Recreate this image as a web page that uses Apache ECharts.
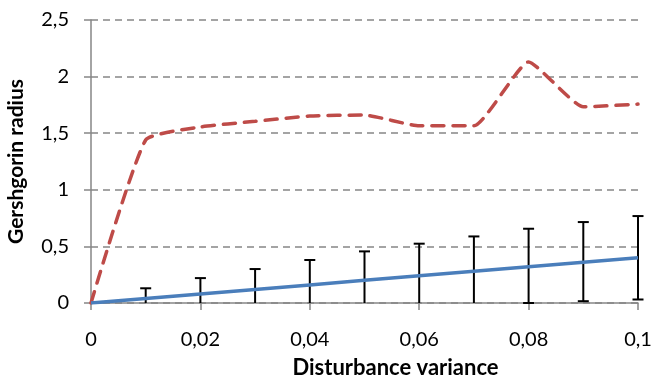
<!DOCTYPE html>
<html>
<head>
<meta charset="utf-8">
<script src="https://cdn.jsdelivr.net/npm/echarts@6/dist/echarts.min.js"></script>
<style>
html, body { margin: 0; padding: 0; background: #fff; }
#chart { width: 653px; height: 375px; }
</style>
</head>
<body>
<div id="chart"></div>
<script>
var xValues = [0, 0.01, 0.02, 0.03, 0.04, 0.05, 0.06, 0.07, 0.08, 0.09, 0.1];
var radiusUpper = [0, 1.44, 1.555, 1.605, 1.652, 1.66, 1.565, 1.565, 2.13, 1.733, 1.757];
var radiusMean = [0, 0.04, 0.08, 0.12, 0.16, 0.2, 0.24, 0.28, 0.32, 0.36, 0.4];
var errLow = [0, -0.05, -0.06, -0.06, -0.06, -0.056, -0.044, -0.028, 0.0, 0.016, 0.031];
var errHigh = [0, 0.13, 0.22, 0.30, 0.38, 0.456, 0.524, 0.588, 0.656, 0.715, 0.768];

var chartDom = document.getElementById('chart');
var myChart = echarts.init(chartDom);

function comma(v) {
    return String(Math.round(v * 100) / 100).replace('.', ',');
}

var redData = xValues.map(function (x, i) { return [x, radiusUpper[i]]; });
var blueData = xValues.map(function (x, i) { return [x, radiusMean[i]]; });
var errData = [];
for (var i = 1; i < xValues.length; i++) {
    errData.push([xValues[i], errLow[i], errHigh[i]]);
}

var font = 'Lato, "Open Sans", sans-serif';

var option = {
    animation: false,
    grid: {
        left: 91,
        right: 15,
        top: 20,
        bottom: 72,
        containLabel: false,
        outerBoundsMode: 'none'
    },
    xAxis: {
        type: 'value',
        min: 0,
        max: 0.1,
        interval: 0.02,
        name: 'Disturbance variance',
        nameLocation: 'middle',
        nameGap: 54,
        nameTextStyle: { fontFamily: font, fontSize: 22, fontWeight: 'bold', color: '#000', padding: [0, 0, 0, 62] },
        axisLine: { show: true, lineStyle: { color: '#868686', width: 1.5 } },
        axisTick: { show: true, length: 7, lineStyle: { color: '#868686', width: 1.5 } },
        axisLabel: { fontFamily: font, fontSize: 20, color: '#000', margin: 27, formatter: comma },
        splitLine: { show: false }
    },
    yAxis: {
        type: 'value',
        min: 0,
        max: 2.5,
        interval: 0.5,
        name: 'Gershgorin radius',
        nameLocation: 'middle',
        nameGap: 64,
        nameRotate: 90,
        nameTextStyle: { fontFamily: font, fontSize: 21, fontWeight: 'bold', color: '#000' },
        axisLine: { show: true, lineStyle: { color: '#868686', width: 1.5 } },
        axisTick: { show: true, length: 7, lineStyle: { color: '#868686', width: 1.5 } },
        axisLabel: { fontFamily: font, fontSize: 20, color: '#000', margin: 22, formatter: comma },
        splitLine: { show: true, lineStyle: { color: '#868686', width: 1.5, type: [7, 5] } }
    },
    series: [
        {
            name: 'Upper bound',
            type: 'line',
            data: redData,
            smooth: 0.15,
            showSymbol: false,
            lineStyle: { color: '#BE4B48', width: 3.5, type: [12, 9], cap: 'round' }
        },
        {
            name: 'Mean',
            type: 'line',
            data: blueData,
            showSymbol: false,
            lineStyle: { color: '#4A7EBB', width: 3.5 }
        },
        {
            name: 'Error',
            type: 'custom',
            data: errData,
            z: 1,
            renderItem: function (params, api) {
                var x = api.value(0);
                var lo = api.value(1);
                var hi = api.value(2);
                var top = api.coord([x, hi]);
                var bot = api.coord([x, Math.max(lo, 0)]);
                var half = 5.5;
                var style = { stroke: '#000', lineWidth: 2 };
                var children = [
                    { type: 'line', shape: { x1: top[0], y1: top[1], x2: bot[0], y2: bot[1] }, style: style },
                    { type: 'line', shape: { x1: top[0] - half, y1: top[1], x2: top[0] + half, y2: top[1] }, style: style }
                ];
                if (lo >= 0) {
                    children.push({ type: 'line', shape: { x1: bot[0] - half, y1: bot[1], x2: bot[0] + half, y2: bot[1] }, style: style });
                }
                return { type: 'group', children: children };
            }
        }
    ]
};

myChart.setOption(option);
</script>
</body>
</html>
